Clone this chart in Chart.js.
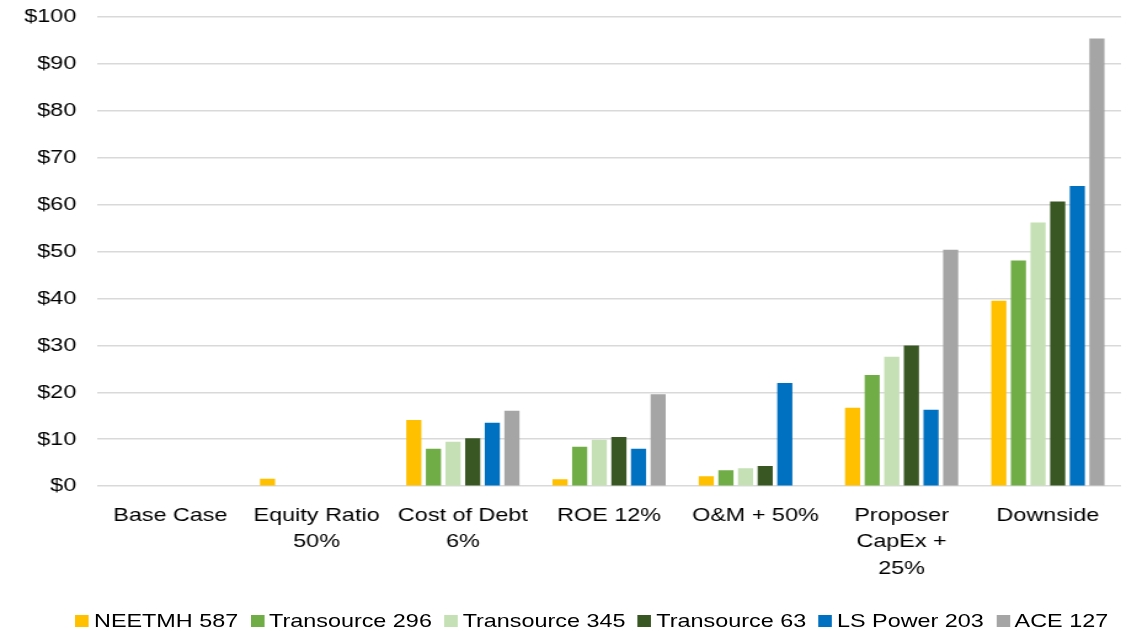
<!DOCTYPE html>
<html>
<head>
<meta charset="utf-8">
<script src="https://cdn.jsdelivr.net/npm/chart.js@4/dist/chart.umd.min.js"></script>
<style>
  html, body { margin: 0; padding: 0; background: #fff; overflow: hidden; }
  #wrap { position: absolute; left: 0; top: 0; width: 924px; height: 631px; transform: scaleX(1.2305); transform-origin: 0 0; }
  #box { position: absolute; left: 0; top: 0; width: 924px; height: 631px; }
  #legend { position: absolute; left: 38px; right: 0; top: 611px; height: 20px; display: flex; justify-content: center; align-items: center;
            font-family: "Liberation Sans", Arial, sans-serif; font-size: 19px; line-height: 20px; color: #000; white-space: nowrap; }
  .item { display: flex; align-items: center; margin-right: 10px; }
  .item:last-child { margin-right: 0; }
  .sw { width: 11px; height: 12px; margin-right: 4px; margin-top: -1px; }
</style>
</head>
<body>
<div id="wrap">
  <div id="box"><canvas id="c"></canvas></div>
  <div id="legend"></div>
</div>
<script>
const categories = [
  ['Base Case'],
  ['Equity Ratio', '50%'],
  ['Cost of Debt', '6%'],
  ['ROE 12%'],
  ['O&M + 50%'],
  ['Proposer', 'CapEx +', '25%'],
  ['Downside']
];
const seriesNames = ['NEETMH 587', 'Transource 296', 'Transource 345', 'Transource 63', 'LS Power 203', 'ACE 127'];
const neetmh587     = [0, 1.6, 14.1, 1.5, 2.1, 16.7, 39.5];
const transource296 = [0, 0, 8.0, 8.4, 3.4, 23.7, 48.1];
const transource345 = [0, 0, 9.5, 9.9, 3.8, 27.6, 56.2];
const transource63  = [0, 0, 10.2, 10.5, 4.3, 30.0, 60.7];
const lsPower203    = [0, 0, 13.5, 8.0, 22.0, 16.3, 64.0];
const ace127        = [0, 0, 16.1, 19.6, 0, 50.4, 95.4];
const seriesColors = ['#FFC000', '#70AD47', '#C5E0B4', '#385723', '#0070C0', '#A5A5A5'];
const yTicks = { min: 0, max: 100, step: 10 };

const seriesValues = [neetmh587, transource296, transource345, transource63, lsPower203, ace127];
const FONT = '"Liberation Sans", Arial, sans-serif';

const chart = new Chart(document.getElementById('c'), {
  type: 'bar',
  data: {
    labels: categories,
    datasets: seriesNames.map((n, i) => ({
      label: n,
      data: seriesValues[i],
      backgroundColor: seriesColors[i],
      borderWidth: 0,
      categoryPercentage: 0.805,
      barPercentage: 0.77
    }))
  },
  options: {
    responsive: true,
    maintainAspectRatio: false,
    animation: false,
    layout: { padding: { top: 17, bottom: 33, left: 19, right: 13 } },
    plugins: { legend: { display: false }, tooltip: { enabled: false } },
    scales: {
      x: {
        grid: { display: false, drawTicks: false },
        border: { display: false },
        ticks: { font: { family: FONT, size: 19, lineHeight: 1.4 }, color: '#000', padding: 16, maxRotation: 0, autoSkip: false }
      },
      y: {
        min: yTicks.min, max: yTicks.max,
        afterFit: (s) => { s.width = 60; s.paddingTop = 0; s.paddingBottom = 0; },
        grid: { color: '#d9d9d9', lineWidth: 1.6, drawTicks: false },
        border: { display: false },
        ticks: { stepSize: yTicks.step, font: { family: FONT, size: 19 }, color: '#000', padding: 17,
                 callback: (v) => '$' + v }
      }
    }
  }
});

const lg = document.getElementById('legend');
chart.data.datasets.forEach(ds => {
  const it = document.createElement('div');
  it.className = 'item';
  const sw = document.createElement('span');
  sw.className = 'sw';
  sw.style.background = ds.backgroundColor;
  const tx = document.createElement('span');
  tx.textContent = ds.label;
  it.appendChild(sw); it.appendChild(tx);
  lg.appendChild(it);
});
</script>
</body>
</html>
